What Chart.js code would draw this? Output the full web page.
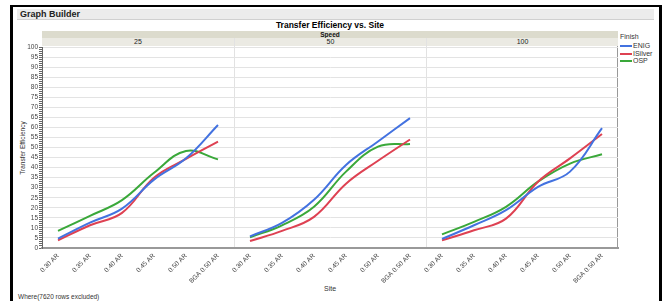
<!DOCTYPE html>
<html lang="en">
<head>
<meta charset="UTF-8">
<title>Transfer Efficiency vs. Site</title>
<script src="https://cdn.jsdelivr.net/npm/chart.js"></script>
<style>
    body { margin: 0; padding: 0; background: #ffffff; font-family: "Liberation Sans", Arial, sans-serif; }
    #wrap { position: relative; width: 662px; height: 301px; overflow: hidden; }
    #frame { position: absolute; left: 10px; top: 5px; width: 646px; height: 300px; border-left: 3px solid #000; border-top: 2px solid #000; border-right: 3px solid #000; }
    #gb { position: absolute; left: 17px; top: 9px; width: 637px; height: 11px; background: #ececec; border-bottom: 1px solid #d0d0d0; font-size: 9px; font-weight: bold; color: #222; line-height: 11px; padding-left: 3px; box-sizing: border-box; }
    #title { position: absolute; left: 42px; width: 576px; top: 20px; text-align: center; font-size: 8.5px; font-weight: bold; color: #000; }
    #speed { position: absolute; left: 42px; top: 31px; width: 576px; height: 7px; background: #dcdbcd; font-size: 6.5px; font-weight: bold; text-align: center; line-height: 7px; color: #111; }
    .plab { position: absolute; top: 38px; height: 8px; background: #ebeae3; font-size: 7px; text-align: center; line-height: 8px; color: #222; }
    .sep { position: absolute; top: 38px; width: 1px; height: 210px; background: #e2e2e2; }
    #rborder { position: absolute; left: 617px; top: 46px; width: 1px; height: 203px; background: #999; }
    #ytitle { position: absolute; left: 22px; top: 148px; transform: translate(-50%, -50%) rotate(-90deg); font-size: 6.5px; color: #333; white-space: nowrap; }
    #xtitle { position: absolute; left: 330px; top: 285px; transform: translateX(-50%); font-size: 7px; color: #333; }
    #foot { position: absolute; left: 18px; top: 293px; font-size: 6.5px; color: #333; }
    #legend { position: absolute; left: 620px; top: 33px; font-size: 7px; color: #333; }
    #legend .ttl { margin-bottom: 2px; }
    #legend .it { height: 7.5px; line-height: 7.5px; white-space: nowrap; }
    #legend .sw { display: inline-block; width: 12px; height: 2px; vertical-align: middle; margin-right: 1px; }
    #c { position: absolute; left: 0; top: 0; }
</style>
</head>
<body>
<div id="wrap">
    <div id="frame"></div>
    <div id="gb">Graph Builder</div>
    <div id="title">Transfer Efficiency vs. Site</div>
    <div id="speed">Speed</div>
    <div class="plab" style="left:42px;width:192px">25</div>
    <div class="plab" style="left:235px;width:191px">50</div>
    <div class="plab" style="left:427px;width:191px">100</div>
    <div class="sep" style="left:234px"></div>
    <div class="sep" style="left:426px"></div>
    <div id="rborder"></div>
    <div id="ytitle">Transfer Efficiency</div>
    <div id="xtitle">Site</div>
    <div id="foot">Where(7620 rows excluded)</div>
    <div id="legend"></div>
    <canvas id="c" width="662" height="301"></canvas>
</div>
<script>
    // categories and panels
    const sites = ['0.30 AR', '0.35 AR', '0.40 AR', '0.45 AR', '0.50 AR', 'BGA 0.50 AR'];
    const speeds = ['25', '50', '100'];
    const finishes = ['ENIG', 'ISilver', 'OSP'];
    const colors = ['#4372e0', '#de4152', '#3aa83a'];

    // Transfer efficiency, one array per finish and speed
    const enig25 = [4.7, 12.6, 19.6, 34, 44.6, 61.2];
    const isilver25 = [3.8, 11.3, 17.5, 35, 44.3, 52.9];
    const osp25 = [8.5, 16, 23.8, 37.4, 48.3, 44.1];

    const enig50 = [5.8, 12.5, 24, 41.3, 53, 64.6];
    const isilver50 = [3.5, 8.5, 15.5, 32, 43.4, 54];
    const osp50 = [5.3, 11.3, 20.5, 38, 50.4, 51.7];

    const enig100 = [4.5, 11.3, 18.8, 30.4, 38, 59.6];
    const isilver100 = [3.8, 8.8, 14.6, 33, 44.6, 56.7];
    const osp100 = [6.8, 13, 20.5, 33, 42, 46.6];

    const bySpeed = [
        [enig25, isilver25, osp25],
        [enig50, isilver50, osp50],
        [enig100, isilver100, osp100]
    ];

    const labels = [];
    speeds.forEach(() => sites.forEach(s => labels.push(s)));

    const datasets = [];
    bySpeed.forEach((group, p) => {
        group.forEach((vals, f) => {
            const data = labels.map(() => null);
            vals.forEach((v, i) => { data[p * sites.length + i] = v; });
            datasets.push({
                label: finishes[f],
                data: data,
                borderColor: colors[f],
                backgroundColor: colors[f],
                borderWidth: 2,
                pointRadius: 0,
                tension: 0.4,
                spanGaps: false,
                fill: false
            });
        });
    });

    // legend
    const leg = document.getElementById('legend');
    let html = '<div class="ttl">Finish</div>';
    finishes.forEach((f, i) => {
        html += '<div class="it"><span class="sw" style="background:' + colors[i] + '"></span>' + f + '</div>';
    });
    leg.innerHTML = html;

    new Chart(document.getElementById('c'), {
        type: 'line',
        data: { labels: labels, datasets: datasets },
        options: {
            responsive: false,
            animation: false,
            layout: { padding: { left: 0, right: 44, top: 47, bottom: 0 } },
            plugins: { legend: { display: false }, tooltip: { enabled: false } },
            scales: {
                x: {
                    type: 'category',
                    offset: true,
                    afterFit: (s) => { s.height = 53; },
                    grid: { display: false, drawTicks: false },
                    border: { display: true, color: '#999', width: 2 },
                    ticks: {
                        autoSkip: false,
                        maxRotation: 45,
                        minRotation: 45,
                        padding: 4,
                        color: '#444',
                        font: { family: 'Liberation Sans', size: 6.5 }
                    }
                },
                y: {
                    min: 0,
                    max: 100,
                    afterFit: (s) => { s.width = 42; },
                    border: { display: true, color: '#666', width: 1 },
                    grid: {
                        color: (c) => (c.tick && c.tick.value % 5 === 0 && c.tick.value > 0) ? '#e3e3e3' : 'rgba(0,0,0,0)',
                        tickColor: '#666',
                        tickLength: 3,
                        drawOnChartArea: true
                    },
                    ticks: {
                        stepSize: 1,
                        autoSkip: false,
                        padding: 1,
                        color: '#444',
                        font: { family: 'Liberation Sans', size: 6.5 },
                        callback: (v) => (v % 5 === 0 ? String(v) : '')
                    }
                }
            }
        }
    });
</script>
</body>
</html>
